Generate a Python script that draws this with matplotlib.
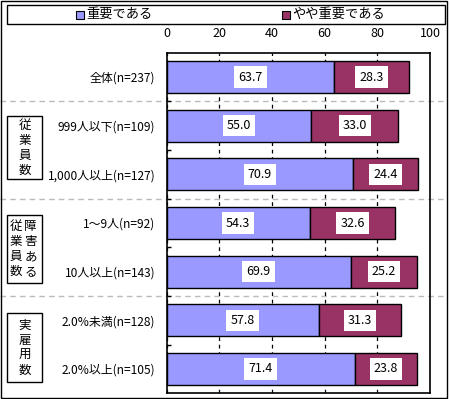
import numpy as np
import matplotlib.pyplot as plt
from matplotlib.patches import Rectangle
from matplotlib.transforms import blended_transform_factory

plt.rcParams['font.family'] = ['Noto Sans CJK JP', 'DejaVu Sans']

categories = ["全体(n=237)", "999人以下(n=109)", "1,000人以上(n=127)",
              "1～9人(n=92)", "10人以上(n=143)",
              "2.0%未満(n=128)", "2.0%以上(n=105)"]
important = [63.7, 55.0, 70.9, 54.3, 69.9, 57.8, 71.4]
somewhat = [28.3, 33.0, 24.4, 32.6, 25.2, 31.3, 23.8]
series_names = ["重要である", "やや重要である"]
colors = ["#9999FF", "#993366"]

W, H = 450, 399
fig = plt.figure(figsize=(W / 100, H / 100), dpi=100)

def fx(px):
    return px / W

def fy(py):
    return 1 - py / H

ax = fig.add_axes([fx(166.5), fy(393.3), fx(430) - fx(166.5), fy(52.7) - fy(393.3)])
y = np.arange(len(categories))
h = 0.66
for vals, left, c in [(important, np.zeros(len(y)), colors[0]),
                      (somewhat, np.array(important), colors[1])]:
    bars = ax.barh(y, vals, left=left, height=h, color=c, edgecolor="black",
                   linewidth=1.0, zorder=3)
    for b, v in zip(bars, vals):
        ax.text(b.get_x() + b.get_width() / 2, b.get_y() + h / 2, f"{v:.1f}",
                ha="center", va="center", fontsize=9, zorder=4,
                bbox=dict(facecolor="white", edgecolor="none", pad=3))

ax.set_xlim(0, 100)
ax.set_ylim(len(y) - 0.5, -0.5)
ax.set_xticks([0, 20, 40, 60, 80, 100])
ax.xaxis.tick_top()
ax.tick_params(axis="x", length=0, labelsize=9, pad=9)
ax.set_yticks(y)
ax.set_yticklabels(categories, fontsize=8.6)
ax.tick_params(axis="y", length=0, pad=8)
ax.set_yticks(np.arange(0.5, len(y) - 0.5), minor=True)
ax.tick_params(axis="y", which="minor", direction="in", length=3, width=1)
ax.grid(axis="x", color="black", linestyle=(0, (3, 3)), linewidth=0.9, zorder=0)
for s in ax.spines.values():
    s.set_linewidth(1.2)

# group separators
tr = blended_transform_factory(fig.transFigure, ax.transData)
for yy in [0.5, 2.5, 4.5]:
    ax.plot([0, fx(445)], [yy, yy], transform=tr, color="#BBBBBB",
            linestyle=(0, (4, 3)), linewidth=1.0, clip_on=False, zorder=1)

# outer frame and legend box
fig.patches.append(Rectangle((fx(1), fy(397.5)), fx(447) - fx(1), fy(1) - fy(397.5),
                             transform=fig.transFigure, fill=False,
                             edgecolor="black", linewidth=1.0))
fig.patches.append(Rectangle((fx(7), fy(24)), fx(445) - fx(7), fy(5) - fy(24),
                             transform=fig.transFigure, fill=False,
                             edgecolor="black", linewidth=1.0))
for lx, name, c in [(76, series_names[0], colors[0]), (282, series_names[1], colors[1])]:
    fig.patches.append(Rectangle((fx(lx), fy(18.5)), fx(8) - fx(0), fy(0) - fy(8),
                                 transform=fig.transFigure, facecolor=c,
                                 edgecolor="black", linewidth=0.8))
    fig.text(fx(lx + 10), fy(14.5), name, fontsize=9.5, va="center", ha="left")

# group label boxes
boxes = [(116, 179.3, [("従業員数", 24.5)]),
         (215.3, 283.3, [("従業員数", 15.5), ("障害ある", 30.5)]),
         (313.3, 382.3, [("実雇用数", 24.5)])]
for top, bot, cols in boxes:
    fig.patches.append(Rectangle((fx(7), fy(bot)), fx(42) - fx(7), fy(top) - fy(bot),
                                 transform=fig.transFigure, fill=False,
                                 edgecolor="black", linewidth=1.0))
    mid = (top + bot) / 2
    for txt, cx in cols:
        for i, ch in enumerate(txt):
            fig.text(fx(cx), fy(mid + (i - 1.5) * 15), ch, fontsize=9,
                     ha="center", va="center")

fig.savefig("out.png", dpi=100)
